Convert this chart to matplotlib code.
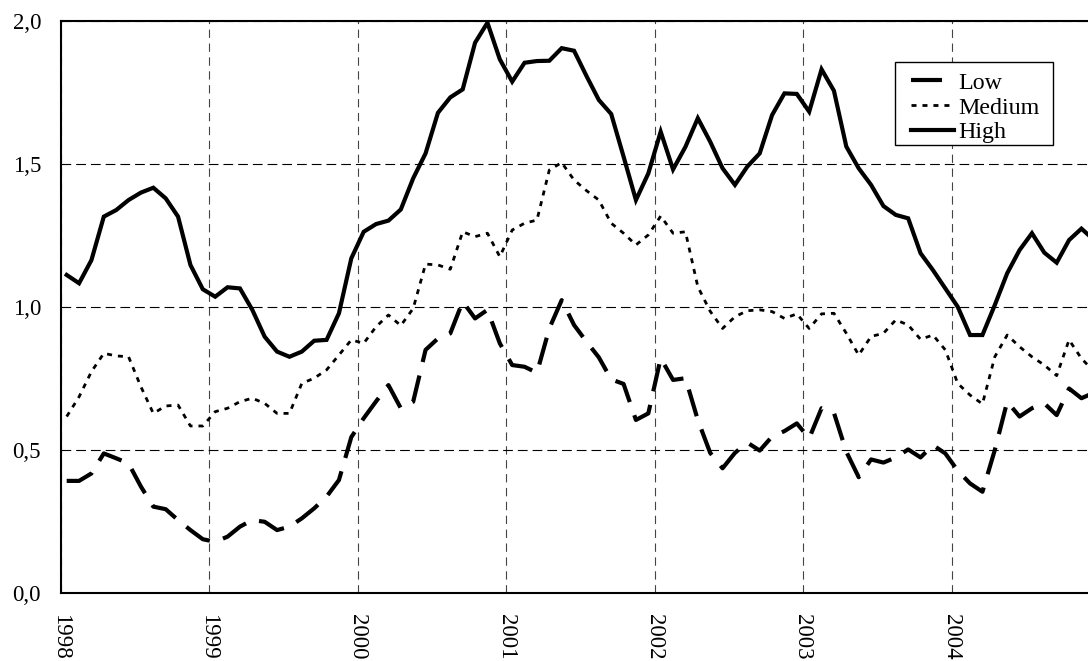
import matplotlib
matplotlib.use("Agg")
import matplotlib.pyplot as plt
from matplotlib.patches import Rectangle
import numpy as np

# ---- data (monthly, Jan 1998 .. Dec 2004) ----
years = ["1998", "1999", "2000", "2001", "2002", "2003", "2004"]

low = [0.392, 0.392, 0.418, 0.488, 0.471, 0.453, 0.372, 0.302, 0.293, 0.255, 0.220, 0.188,
       0.179, 0.197, 0.232, 0.255, 0.249, 0.220, 0.232, 0.261, 0.296, 0.337, 0.395, 0.545,
       0.611, 0.670, 0.727, 0.646, 0.669, 0.850, 0.890, 0.908, 1.019, 0.960, 0.990, 0.873,
       0.797, 0.791, 0.770, 0.925, 1.024, 0.937, 0.879, 0.824, 0.747, 0.731, 0.605, 0.628,
       0.821, 0.745, 0.751, 0.605, 0.490, 0.436, 0.490, 0.526, 0.498, 0.547, 0.566, 0.593,
       0.541, 0.646, 0.630, 0.494, 0.405, 0.467, 0.456, 0.474, 0.502, 0.474, 0.517, 0.488,
       0.428, 0.383, 0.354, 0.500, 0.669, 0.617, 0.646, 0.663, 0.622, 0.715, 0.681, 0.700]

medium = [0.617, 0.686, 0.774, 0.838, 0.829, 0.826, 0.721, 0.628, 0.654, 0.657, 0.584, 0.584,
          0.634, 0.646, 0.669, 0.681, 0.663, 0.628, 0.628, 0.733, 0.751, 0.780, 0.832, 0.885,
          0.873, 0.931, 0.972, 0.935, 0.995, 1.150, 1.147, 1.132, 1.263, 1.246, 1.258, 1.176,
          1.269, 1.293, 1.304, 1.479, 1.505, 1.444, 1.407, 1.374, 1.293, 1.258, 1.217, 1.252,
          1.318, 1.258, 1.263, 1.071, 0.985, 0.925, 0.966, 0.987, 0.990, 0.984, 0.960, 0.976,
          0.925, 0.976, 0.978, 0.908, 0.832, 0.897, 0.908, 0.955, 0.937, 0.887, 0.902, 0.850,
          0.733, 0.692, 0.661, 0.826, 0.902, 0.861, 0.826, 0.797, 0.760, 0.885, 0.820, 0.775]

high = [1.112, 1.083, 1.164, 1.316, 1.339, 1.374, 1.400, 1.417, 1.380, 1.316, 1.147, 1.062,
        1.036, 1.069, 1.065, 0.990, 0.896, 0.844, 0.826, 0.844, 0.882, 0.885, 0.978, 1.170,
        1.263, 1.290, 1.302, 1.341, 1.450, 1.537, 1.679, 1.733, 1.761, 1.924, 1.994, 1.866,
        1.788, 1.854, 1.860, 1.861, 1.905, 1.896, 1.808, 1.724, 1.675, 1.526, 1.374, 1.467,
        1.613, 1.481, 1.560, 1.660, 1.578, 1.485, 1.427, 1.491, 1.537, 1.671, 1.747, 1.745,
        1.683, 1.831, 1.756, 1.561, 1.485, 1.427, 1.353, 1.322, 1.310, 1.188, 1.129, 1.065,
        1.001, 0.902, 0.902, 1.007, 1.118, 1.199, 1.258, 1.190, 1.155, 1.234, 1.274, 1.235]

y_ticks = [0.0, 0.5, 1.0, 1.5, 2.0]
y_tick_labels = ["0,0", "0,5", "1,0", "1,5", "2,0"]

plt.rcParams['font.family'] = ['Liberation Serif', 'DejaVu Serif']
plt.rcParams['lines.scale_dashes'] = False

W, H = 1088, 661
fig = plt.figure(figsize=(W / 100, H / 100), dpi=100)
left_px, right_px, top_px, bottom_px = 60.5, 1100.0, 21.0, 593.0
ax = fig.add_axes([left_px / W, (H - bottom_px) / H,
                   (right_px - left_px) / W, (bottom_px - top_px) / H])

n = len(high)
x = np.arange(n)

ax.plot(x, low, color='black', lw=3.0, linestyle=(0, (20, 10)),
        solid_capstyle='butt', dash_capstyle='butt', label='Low')
ax.plot(x, medium, color='black', lw=2.0, linestyle=(0, (3.6, 4.3)),
        dash_capstyle='butt', label='Medium')
ax.plot(x, high, color='black', lw=3.0, solid_joinstyle='miter', label='High')

ax.set_xlim(-0.5, n - 0.5)
ax.set_ylim(0, 2.0)

xt = np.arange(len(years)) * 12 - 0.5
ax.set_xticks(xt)
ax.set_xticklabels(years, rotation=-90, fontsize=16.5, va='top', ha='center')
ax.set_yticks(y_ticks)
ax.set_yticklabels(y_tick_labels, fontsize=16.5)
ax.tick_params(axis='both', length=0)
ax.tick_params(axis='x', pad=15)
ax.tick_params(axis='y', pad=14)

ax.xaxis.grid(True, color='#444444', lw=0.8, linestyle=(0, (6, 4)))
ax.yaxis.grid(True, color='black', lw=0.8, linestyle=(0, (7, 3.6)))
ax.set_axisbelow(True)
for s in ax.spines.values():
    s.set_linewidth(1.5)
    s.set_color('black')

# legend (frame drawn separately to match the reference padding)
leg = fig.legend(loc='upper left', bbox_to_anchor=(910.7 / W, (H - 72.0) / H),
                 borderaxespad=0, frameon=False, fontsize=17.3,
                 handlelength=1.8, handletextpad=0.19, labelspacing=0.12,
                 borderpad=0.0, handles=ax.get_lines())
leg.get_lines()[0].set_linestyle((0, (22.3, 20)))
fig.patches.append(Rectangle((895 / W, (H - 145) / H), (1053 - 895) / W, (145 - 62) / H,
                             transform=fig.transFigure, fill=True, facecolor='white',
                             edgecolor='black', lw=1.0, zorder=4))
leg.set_zorder(5)

fig.savefig('out.png', dpi=100)
